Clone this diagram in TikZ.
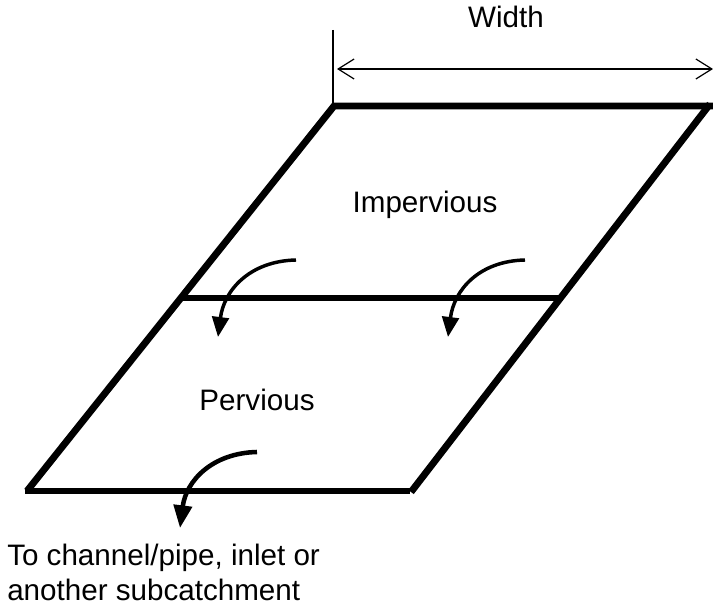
\documentclass[tikz,border=0pt]{standalone}
\usepackage{fontspec}
\setmainfont{Liberation Sans}
\usetikzlibrary{arrows.meta}
\tikzset{
  edge/.style={line width=5.2pt,line cap=butt,line join=miter},
  flow/.style={line width=2.6pt,-{Triangle[length=15pt,width=12.5pt]}},
  flowbig/.style={line width=3.4pt,-{Triangle[length=17pt,width=13.5pt]}},
  dim/.style={line width=0.9pt,{Straight Barb[length=12pt,width=15pt,line width=0.9pt]}-{Straight Barb[length=12pt,width=15pt,line width=0.9pt]}},
  thin tick/.style={line width=0.9pt},
  lab/.style={inner sep=0pt,font=\fontsize{22.2}{28}\selectfont},
}
\begin{document}
\begin{tikzpicture}[x=0.75pt,y=-0.75pt]
\useasboundingbox (0,0) rectangle (713,605);
\coordinate (tl) at (334,106);
\coordinate (tr) at (713,106);
\coordinate (tr2) at (710,104);
\coordinate (ml) at (180,298);
\coordinate (mr) at (562,298);
\coordinate (bl) at (25,491);
\coordinate (br) at (410,491);
\coordinate (bl2) at (27,491);
\coordinate (br2) at (411,492);
\coordinate (tl2) at (333,106);
\coordinate (tick) at (333,30);
\coordinate (tickb) at (333,106);
\coordinate (wl) at (337,69);
\coordinate (wr) at (713,69);
\coordinate (a1s) at (296,260);
\coordinate (a1e) at (218,337);
\coordinate (a2s) at (525,260);
\coordinate (a2e) at (448,337);
\coordinate (a3s) at (257,452);
\coordinate (a3e) at (180,528);
\draw[thin tick] (tick) -- (tickb);
\draw[dim] (wl) -- (wr);
\draw[edge] (bl2) -- (tl) -- (tr);
\draw[edge] (tr2) -- (br2);
\draw[edge] (bl) -- (br);
\draw[edge] (ml) -- (mr);
\draw[flow] (a1s) .. controls (250,261) and (224,290) .. (a1e);
\draw[flow] (a2s) .. controls (479,261) and (454,290) .. (a2e);
\draw[flowbig] (a3s) .. controls (212,453) and (186,481) .. (a3e);
\node[lab,anchor=base] (w) at (506,28) {Width};
\node[lab,anchor=base] (imp) at (425,213) {Impervious};
\node[lab,anchor=base] (per) at (257,411) {Pervious};
\node[lab,anchor=base west] (t1) at (7,565) {To channel/pipe, inlet or};
\node[lab,anchor=base west] (t2) at (7,600) {another subcatchment};
\end{tikzpicture}
\end{document}
